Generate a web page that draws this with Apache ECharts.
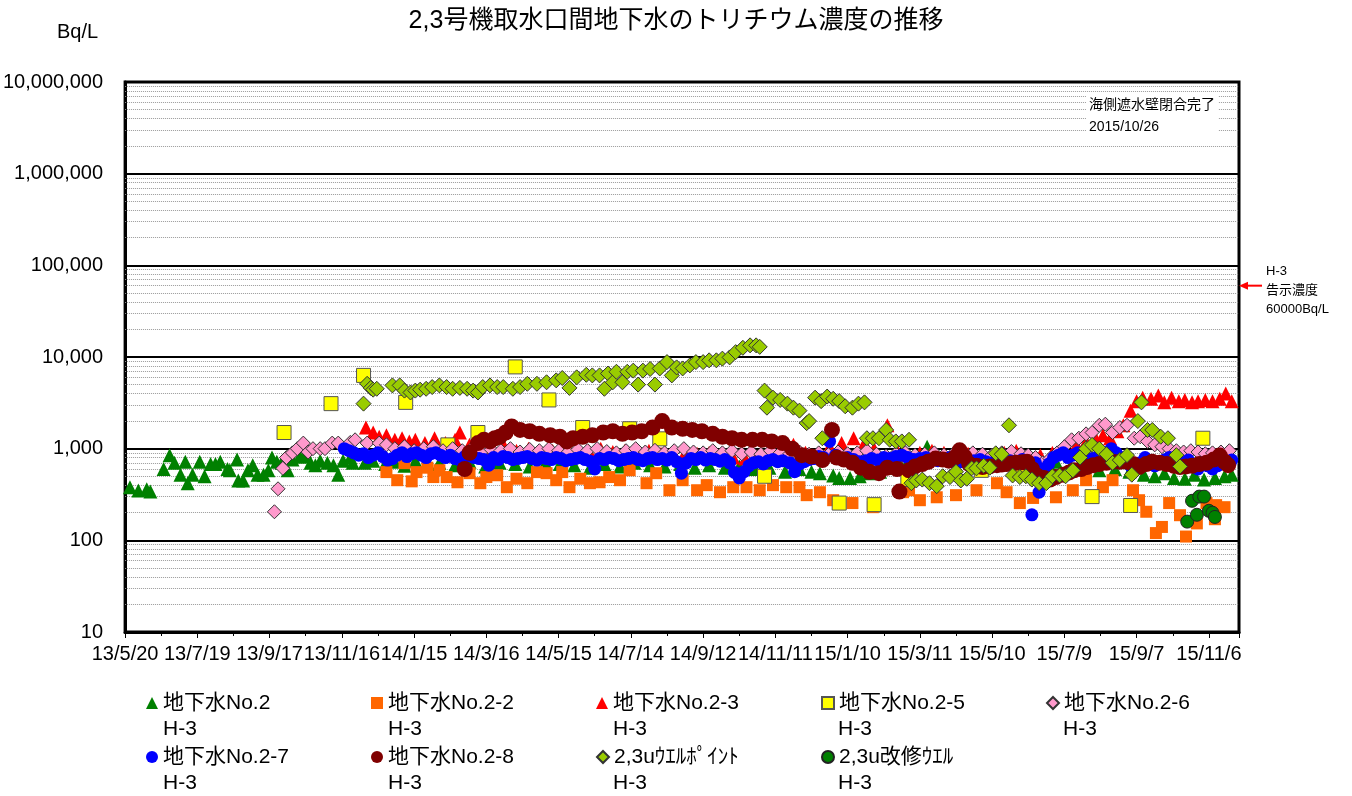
<!DOCTYPE html>
<html>
<head>
<meta charset="utf-8">
<title>2,3号機取水口間地下水のトリチウム濃度の推移</title>
<script src="https://cdn.jsdelivr.net/npm/echarts@6/dist/echarts.min.js"></script>
<style>
    html, body { margin: 0; padding: 0; background: #fff; }
    #main { width: 1352px; height: 796px; }
</style>
</head>
<body>
<div id="main"></div>
<script>
// x は 2013/5/20 からの経過日数, y は Bq/L
var xTickLabels = ['13/5/20', '13/7/19', '13/9/17', '13/11/16', '14/1/15', '14/3/16', '14/5/15', '14/7/14',
    '14/9/12', '14/11/11', '15/1/10', '15/3/11', '15/5/10', '15/7/9', '15/9/7', '15/11/6'];

var seriesNames = ['地下水No.2', '地下水No.2-2', '地下水No.2-3', '地下水No.2-5', '地下水No.2-6',
    '地下水No.2-7', '地下水No.2-8', '2,3uｳｴﾙﾎﾟｲﾝﾄ', '2,3u改修ｳｴﾙ'];

var no2Data = [[4,380],[11,350],[18,360],[21,340],[32,600],[37,850],[41,700],[46,520],[50,720],[52,420],
    [56,520],[62,720],[66,500],[71,680],[75,680],[79,720],[85,600],[87,580],[93,760],[94,450],[98,450],
    [102,580],[106,660],[110,520],[115,520],[119,580],[122,800],[126,720],[130,700],[135,580],[139,760],
    [145,820],[149,820],[154,700],[158,660],[162,740],[168,700],[173,660],[177,520],[181,740],[187,800],
    [189,700],[199,700],[206,740],[216,680],[224,720],[232,650],[241,740],[251,680],[261,700],[274,660],
    [286,720],[299,640],[311,700],[324,680],[336,640],[349,700],[361,680],[373,660],[386,620],[398,680],
    [411,640],[423,700],[436,660],[448,640],[461,680],[473,620],[485,660],[498,620],[510,640],[523,600],
    [535,620],[548,560],[560,600],[570,560],[577,540],[588,510],[593,480],[602,480],[610,500],[618,540],
    [627,560],[635,620],[643,700],[651,760],[660,720],[666,1050],[676,800],[685,760],[693,740],[705,700],
    [718,680],[730,700],[743,660],[755,680],[768,640],[773,720],[784,600],[797,640],[809,580],[822,600],
    [834,560],[846,520],[855,500],[863,540],[871,480],[880,470],[888,520],[896,460],[905,480],[913,500],[919,520]];

var no22Data = [[217,555],[226,453],[232,695],[238,440],[242,555],[251,620],[256,490],[261,582],[267,490],
    [276,430],[286,540],[295,420],[300,490],[309,513],[317,380],[325,470],[334,420],[342,555],[350,540],
    [358,453],[363,555],[369,380],[378,470],[386,420],[394,430],[402,490],[411,453],[419,582],[433,420],
    [441,540],[452,352],[463,453],[475,352],[483,400],[494,335],[505,380],[516,380],[527,352],[538,400],
    [549,380],[560,380],[566,311],[577,335],[588,274],[604,255],[621,230],[646,335],[651,352],[660,274],
    [674,295],[690,311],[707,352],[724,420],[732,335],[743,255],[754,290],[773,295],[787,352],[798,453],
    [812,380],[820,453],[837,352],[842,274],[848,205],[856,120],[861,140],[867,255],[876,188],[881,110],
    [890,153],[898,255],[906,242],[913,230],[905,170]];

var no23Data = [[200,1700],[206,1500],[211,1350],[217,1400],[224,1250],[230,1300],[236,1200],[241,1250],
    [249,1150],[257,1300],[266,1150],[274,1250],[278,1500],[286,1100],[295,1000],[305,950],[315,1050],
    [325,950],[335,1000],[345,900],[355,950],[365,1000],[375,900],[385,950],[395,1000],[405,920],[415,950],
    [425,900],[435,950],[445,880],[455,920],[465,900],[475,880],[485,900],[495,850],[505,800],[515,780],
    [525,820],[535,850],[545,1000],[555,1100],[565,900],[575,850],[585,1050],[595,1150],[605,1300],
    [614,1150],[622,1000],[633,1800],[642,900],[650,850],[660,900],[670,950],[680,900],[690,850],[700,880],
    [710,800],[720,850],[730,900],[740,950],[750,800],[760,850],[770,900],[780,950],[790,1100],[798,1200],
    [806,1300],[812,1400],[818,1300],[824,1550],[829,1800],[835,2600],[840,3300],[845,3600],[852,3500],
    [858,3800],[863,3200],[869,3600],[875,3300],[880,3400],[886,3200],[891,3300],[897,3400],[903,3300],
    [909,3500],[914,4000],[919,3300]];

var no25Data = [[132,1500],[171,3100],[198,6300],[233,3200],[268,1100],[293,1500],[324,7800],[352,3400],
    [380,1700],[419,1650],[444,1280],[531,500],[593,255],[622,245],[650,460],[711,580],[744,580],[803,300],
    [835,240],[895,1300]];

var no26Data = [[124,205],[127,365],[131,610],[134,800],[139,900],[143,1000],[148,1150],[152,920],[156,1000],
    [162,1000],[166,1000],[172,1150],[177,1150],[187,1170],[191,1250],[201,1150],[211,1150],[217,1100],
    [224,1000],[232,1050],[240,950],[248,1000],[256,1050],[264,950],[272,1000],[280,950],[288,1000],[296,920],
    [304,980],[312,950],[320,1000],[328,920],[336,980],[344,950],[352,1000],[360,950],[368,920],[376,980],
    [384,950],[392,1000],[400,930],[408,900],[416,950],[424,1000],[432,920],[440,960],[448,900],[456,950],
    [464,1000],[472,920],[480,900],[488,950],[496,900],[504,950],[512,880],[520,920],[528,870],[536,950],
    [544,900],[552,880],[560,920],[568,870],[576,900],[584,860],[592,920],[600,880],[608,900],[616,950],
    [624,870],[632,830],[640,880],[648,900],[656,850],[664,870],[672,900],[680,850],[688,880],[696,920],
    [704,900],[712,870],[720,850],[728,900],[736,930],[744,880],[750,850],[756,800],[762,700],[768,780],
    [774,900],[780,1050],[786,1250],[792,1300],[798,1450],[803,1500],[809,1800],[814,1850],[820,1500],
    [826,1700],[832,1800],[838,1300],[843,1350],[849,1200],[855,1100],[861,1050],[867,1000],[873,950],
    [879,920],[885,950],[891,920],[897,880],[903,900],[910,920],[917,950]];

var no27Data = [[182,1000],[186,950],[190,900],[194,850],[198,880],[202,800],[206,850],[210,900],[214,820],
    [218,750],[222,780],[226,850],[230,900],[234,820],[238,880],[242,900],[246,850],[250,800],[254,880],
    [258,900],[262,850],[266,800],[270,850],[274,780],[278,750],[282,820],[286,850],[290,800],[294,780],
    [298,760],[302,660],[306,800],[310,760],[314,820],[318,800],[322,760],[326,780],[330,800],[334,820],
    [338,780],[342,750],[346,800],[350,780],[354,760],[358,800],[362,780],[366,740],[370,760],[374,780],
    [378,800],[382,760],[386,730],[390,600],[394,780],[398,760],[402,800],[406,780],[410,740],[414,760],
    [418,780],[422,800],[426,760],[430,740],[434,780],[438,800],[442,760],[446,780],[450,750],[454,800],
    [458,720],[462,540],[466,700],[470,780],[474,760],[478,800],[482,750],[486,780],[490,760],[494,730],
    [498,760],[502,700],[506,550],[510,480],[514,560],[518,650],[522,700],[526,720],[530,680],[534,740],
    [538,760],[542,720],[546,740],[552,700],[556,560],[560,680],[564,720],[568,760],[572,780],[576,820],
    [580,800],[585,1200],[590,850],[595,780],[600,800],[605,760],[610,720],[615,740],[620,780],[625,750],
    [630,800],[635,780],[640,820],[645,850],[650,800],[655,760],[660,780],[665,800],[670,760],[675,740],
    [680,780],[685,800],[690,760],[695,720],[700,700],[705,740],[710,760],[715,720],[720,700],[725,750],
    [730,780],[735,740],[740,700],[745,760],[750,720],[753,190],[756,700],[759,335],[763,600],[767,680],
    [771,800],[775,850],[779,900],[783,800],[787,850],[791,900],[795,800],[799,750],[803,780],[807,800],
    [811,850],[815,900],[819,1000],[823,900],[827,800],[831,720],[835,650],[839,600],[843,700],[847,800],
    [851,700],[855,650],[859,700],[863,750],[867,800],[871,700],[875,650],[879,700],[883,750],[887,650],
    [891,600],[895,700],[899,650],[903,600],[907,650],[911,700],[915,720],[919,750]];

var no28Data = [[282,600],[286,900],[293,1150],[298,1250],[303,1200],[307,1300],[311,1350],[316,1500],
    [321,1750],[328,1600],[336,1550],[344,1450],[353,1400],[361,1350],[367,1200],[372,1300],[380,1350],
    [388,1400],[397,1500],[405,1550],[413,1450],[421,1500],[429,1550],[438,1700],[446,2000],[454,1700],
    [463,1650],[471,1600],[479,1550],[488,1450],[496,1350],[504,1300],[512,1250],[521,1250],[529,1250],
    [537,1200],[546,1150],[554,1000],[562,850],[570,820],[579,750],[587,1600],[591,800],[597,760],[604,700],
    [611,620],[618,560],[626,540],[633,620],[641,600],[643,340],[651,580],[656,640],[662,680],[667,720],
    [673,780],[679,760],[684,740],[689,800],[693,960],[697,820],[701,680],[707,650],[712,630],[718,640],
    [724,660],[728,670],[732,680],[736,690],[740,700],[745,710],[749,720],[753,600],[757,510],[763,480],
    [768,460],[773,490],[779,520],[784,550],[788,580],[794,600],[799,630],[804,660],[809,680],[815,700],
    [820,720],[826,720],[832,720],[837,680],[842,630],[848,680],[853,720],[859,700],[865,680],[871,650],
    [876,630],[881,640],[886,650],[892,680],[898,700],[904,760],[909,840],[913,720],[916,660]];

var wellPointData = [[198,3100],[201,5100],[204,4600],[206,4400],[209,4500],[222,4900],[228,4900],[232,4300],
    [237,4100],[241,4300],[245,4400],[250,4500],[255,4700],[261,4900],[267,4700],[272,4500],[278,4600],
    [284,4500],[289,4300],[293,4100],[297,4700],[303,4900],[309,4700],[314,4700],[322,4500],[328,4700],
    [334,5100],[342,5100],[350,5300],[358,5560],[363,5900],[369,4600],[375,6000],[383,6400],[388,6300],
    [394,6300],[398,4500],[401,6600],[405,5300],[408,6900],[413,5300],[417,6900],[422,7100],[426,5000],
    [430,7100],[436,7400],[440,5000],[444,7500],[450,8800],[454,6300],[458,7700],[463,7500],[469,8100],
    [474,8800],[480,8800],[485,9200],[491,9200],[496,9600],[502,9900],[507,11300],[513,12600],[519,13400],
    [524,13400],[527,12900],[531,4300],[533,2800],[538,3600],[544,3400],[550,3100],[555,2800],[560,2600],
    [566,1900],[568,2000],[573,3600],[578,3300],[579,1300],[583,3700],[588,3500],[593,3300],[598,2900],
    [604,2800],[609,3100],[614,3200],[616,1300],[621,1300],[626,1300],[632,1600],[635,1250],[640,1200],
    [645,1200],[651,1250],[653,420],[657,450],[662,460],[668,420],[674,390],[679,500],[685,490],[690,560],
    [694,450],[699,470],[703,610],[707,610],[713,650],[718,620],[723,890],[728,870],[734,1800],[737,510],
    [743,490],[748,500],[753,460],[759,420],[765,420],[770,500],[776,510],[781,500],[787,580],[793,800],
    [798,1000],[803,1100],[809,1000],[815,870],[820,700],[826,750],[832,850],[836,520],[841,2000],[844,3200],
    [849,1600],[853,1600],[860,1350],[866,1300],[873,850],[876,640]];

var repairWellData = [[882,160],[886,270],[890,190],[892,300],[896,300],[900,210],[903,200],[905,180]];

var legendLines = ['H-3', 'H-3', 'H-3', 'H-3', 'H-3', 'H-3', 'H-3', 'H-3', 'H-3'];
var limitValue = 60000;
var noteLines = ['海側遮水壁閉合完了', '2015/10/26'];
var limitLines = ['H-3', '告示濃度', '60000Bq/L'];

(function (echarts) {
    "use strict";

    var FONT = '"Liberation Sans", Arial, "Noto Sans CJK JP", sans-serif';
    var DAY_MAX = 925;

    // 対数軸の補助目盛 (2〜9)
    var minorValues = [];
    for (var p = 1; p < 7; p++) {
        for (var k = 2; k < 10; k++) {
            minorValues.push({yAxis: k * Math.pow(10, p)});
        }
    }

    var looks = [
        {symbol: 'triangle', size: 14, color: '#008000'},
        {symbol: 'rect', size: 12, color: '#FF6600'},
        {symbol: 'triangle', size: 14, color: '#FF0000'},
        {symbol: 'rect', size: 14, color: '#FFFF00', border: '#555'},
        {symbol: 'diamond', size: 14, color: '#FF99CC', border: '#333'},
        {symbol: 'circle', size: 13, color: '#0000FF'},
        {symbol: 'circle', size: 16, color: '#800000'},
        {symbol: 'diamond', size: 15, color: '#99CC00', border: '#333'},
        {symbol: 'circle', size: 13, color: '#008000', border: '#222'}
    ];
    var allData = [no2Data, no22Data, no23Data, no25Data, no26Data, no27Data, no28Data, wellPointData, repairWellData];

    var series = [];
    for (var i = 0; i < seriesNames.length; i++) {
        var lk = looks[i];
        var s = {
            name: seriesNames[i],
            type: 'scatter',
            symbol: lk.symbol,
            symbolSize: lk.size,
            data: allData[i],
            itemStyle: {
                color: lk.color,
                opacity: 1,
                borderColor: lk.border || lk.color,
                borderWidth: lk.border ? 1 : 0
            },
            emphasis: {disabled: true}
        };
        if (i === 0) {
            s.markLine = {
                silent: true,
                z: 1,
                symbol: 'none',
                label: {show: false},
                lineStyle: {color: '#999', type: 'dotted', width: 1},
                data: minorValues
            };
        }
        series.push(s);
    }

    // 凡例は1項目ずつ配置 (5列)
    var colX = [146, 371, 596, 821, 1046];
    var rowY = [703, 757];
    var legends = [];
    var graphics = [];
    for (var j = 0; j < seriesNames.length; j++) {
        var cx = colX[j % 5], cy = rowY[Math.floor(j / 5)];
        legends.push({
            data: [seriesNames[j]],
            left: cx,
            top: cy - 13.5,
            padding: 0,
            itemWidth: 12,
            itemHeight: 12,
            selectedMode: false,
            textStyle: {fontFamily: FONT, fontSize: 21, color: '#000', lineHeight: 27}
        });
        graphics.push({
            type: 'text',
            left: cx + 17,
            top: cy + 27 - 11,
            style: {text: legendLines[j], font: '21px ' + FONT, fill: '#000'}
        });
    }

    graphics.push({
        type: 'text', left: 57, top: 22,
        style: {text: 'Bq/L', font: '20px ' + FONT, fill: '#000'}
    });
    graphics.push({
        type: 'text', left: 1086, top: 93, z: 10,
        style: {
            text: noteLines.join('\n'), font: '14px ' + FONT, fill: '#000',
            lineHeight: 22, backgroundColor: '#fff', padding: [1, 3, 1, 3]
        }
    });

    var chart = echarts.init(document.getElementById('main'));
    chart.setOption({
        animation: false,
        backgroundColor: '#fff',
        title: {
            text: '2,3号機取水口間地下水のトリチウム濃度の推移',
            left: 'center',
            top: 4,
            textStyle: {fontFamily: FONT, fontSize: 25, fontWeight: 'normal', color: '#000'}
        },
        grid: {
            left: 125, right: 113, top: 82, bottom: 164,
            show: true, borderColor: '#000', borderWidth: 3
        },
        xAxis: {
            type: 'value',
            min: 0,
            max: DAY_MAX,
            interval: 60,
            axisLine: {lineStyle: {color: '#000', width: 3}},
            axisTick: {show: true, length: 6, lineStyle: {color: '#000', width: 1}},
            minorTick: {show: true, splitNumber: 2, length: 4, lineStyle: {color: '#000'}},
            splitLine: {show: false},
            axisLabel: {
                margin: 12,
                fontFamily: FONT,
                fontSize: 20,
                color: '#000',
                showMaxLabel: false,
                formatter: function (v) {
                    return v % 60 === 0 ? (xTickLabels[v / 60] || '') : '';
                }
            }
        },
        yAxis: {
            type: 'log',
            logBase: 10,
            min: 10,
            max: 10000000,
            axisLine: {show: true, lineStyle: {color: '#000', width: 3}},
            axisTick: {show: false},
            splitLine: {show: true, lineStyle: {color: '#000', width: 2}},
            axisLabel: {
                margin: 22,
                fontFamily: FONT,
                fontSize: 20,
                color: '#000',
                formatter: function (v) {
                    return Math.round(v).toLocaleString('en-US');
                }
            }
        },
        legend: legends,
        graphic: graphics,
        series: series
    });

    // 告示濃度の矢印
    var ly = chart.convertToPixel({yAxisIndex: 0}, limitValue);
    graphics.push({
        type: 'line',
        shape: {x1: 1243, y1: ly, x2: 1262, y2: ly},
        style: {stroke: '#FF0000', lineWidth: 2}
    });
    graphics.push({
        type: 'polygon',
        shape: {points: [[1239, ly], [1248, ly - 4], [1248, ly + 4]]},
        style: {fill: '#FF0000'}
    });
    graphics.push({
        type: 'text', left: 1266, top: ly - 24,
        style: {text: limitLines.join('\n'), font: '13px ' + FONT, fill: '#000', lineHeight: 19}
    });
    chart.setOption({graphic: graphics});

})(echarts);
</script>
</body>
</html>
